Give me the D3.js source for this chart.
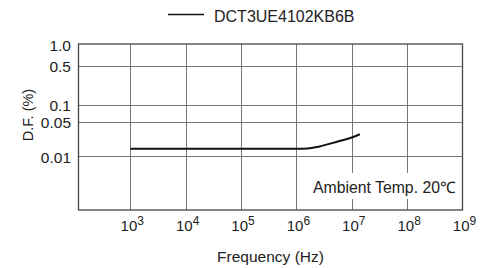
<!DOCTYPE html>
<html><head><meta charset="utf-8">
<script src="https://cdn.jsdelivr.net/npm/d3@7"></script>
<style>body{margin:0;background:#fff}text{font-family:"Liberation Sans",Arial,sans-serif;fill:#222}</style>
</head><body>
<svg id="c" width="484" height="268"></svg>
<script>
const seriesName = "DCT3UE4102KB6B";
const freqs = [1e3, 1e4, 1e5, 1e6, 1.6e6, 2.5e6, 5.8e6, 1e7, 1.4e7];
const dfValues = [0.0141, 0.0141, 0.0141, 0.0141, 0.0143, 0.0155, 0.0200, 0.0238, 0.0278];
const xTickExps = [3, 4, 5, 6, 7, 8, 9];
const yTicks = [1.0, 0.5, 0.1, 0.05, 0.01];
const yTickLabels = ["1.0", "0.5", "0.1", "0.05", "0.01"];
const note = "Ambient Temp. 20\u2103";

const svg = d3.select("#c");
const L = 78.5, R = 462.5, T = 44, B = 210;
const x = d3.scaleLog().domain([116, 1e9]).range([L, R]);
const y = d3.scaleLog().domain([0.001, 0.01, 0.05, 0.1, 0.5, 1.0]).range([B, 156, 121.7, 104.7, 65.7, T]);

// grid
const g = svg.append("g");
g.selectAll("line.vx").data(xTickExps.filter(e => e < 9)).join("line")
  .attr("x1", e => Math.round(x(Math.pow(10, e))) + 0.5).attr("x2", e => Math.round(x(Math.pow(10, e))) + 0.5)
  .attr("y1", T).attr("y2", B).attr("stroke", "#777").attr("stroke-width", 1);
g.selectAll("line.hy").data(yTicks.filter(v => v < 1)).join("line")
  .attr("x1", L).attr("x2", R)
  .attr("y1", v => Math.round(y(v)) + 0.5).attr("y2", v => Math.round(y(v)) + 0.5)
  .attr("stroke", "#777").attr("stroke-width", 1);

// note background
svg.append("rect").attr("x", 308).attr("y", 173).attr("width", 152).attr("height", 26).attr("fill", "#fff");
svg.append("text").attr("x", 456).attr("y", 193.3).attr("text-anchor", "end").attr("font-size", 15.8).text(note);

// frame
svg.append("rect").attr("x", L).attr("y", T).attr("width", R - L).attr("height", B - T)
  .attr("fill", "none").attr("stroke", "#444").attr("stroke-width", 1.3);

// series
const line = d3.line().x((d, i) => x(freqs[i])).y(d => y(d)).curve(d3.curveMonotoneX);
svg.append("path").attr("d", line(dfValues)).attr("fill", "none").attr("stroke", "#111").attr("stroke-width", 2);

// x tick labels
const xl = svg.append("g").selectAll("text").data(xTickExps).join("text")
  .attr("x", e => x(Math.pow(10, e)) + 2).attr("y", 231).attr("text-anchor", "middle").attr("font-size", 15);
xl.append("tspan").text("10");
xl.append("tspan").attr("dy", -6.5).attr("font-size", 12).text(e => e);

// y tick labels
svg.append("g").selectAll("text").data(yTicks).join("text")
  .attr("x", 71).attr("y", v => y(v) + 6.5).attr("text-anchor", "end").attr("font-size", 15.5)
  .text((v, i) => yTickLabels[i]);

// axis titles
svg.append("text").attr("transform", "translate(32.5,115) rotate(-90)").attr("text-anchor", "middle")
  .attr("font-size", 14.5).text("D.F. (%)");
svg.append("text").attr("x", 270.5).attr("y", 262).attr("text-anchor", "middle").attr("font-size", 15.5).text("Frequency (Hz)");

// legend
svg.append("line").attr("x1", 168).attr("x2", 204).attr("y1", 14.5).attr("y2", 14.5).attr("stroke", "#111").attr("stroke-width", 1.5);
svg.append("text").attr("x", 214).attr("y", 22).attr("font-size", 16).text(seriesName);
</script>
</body></html>
